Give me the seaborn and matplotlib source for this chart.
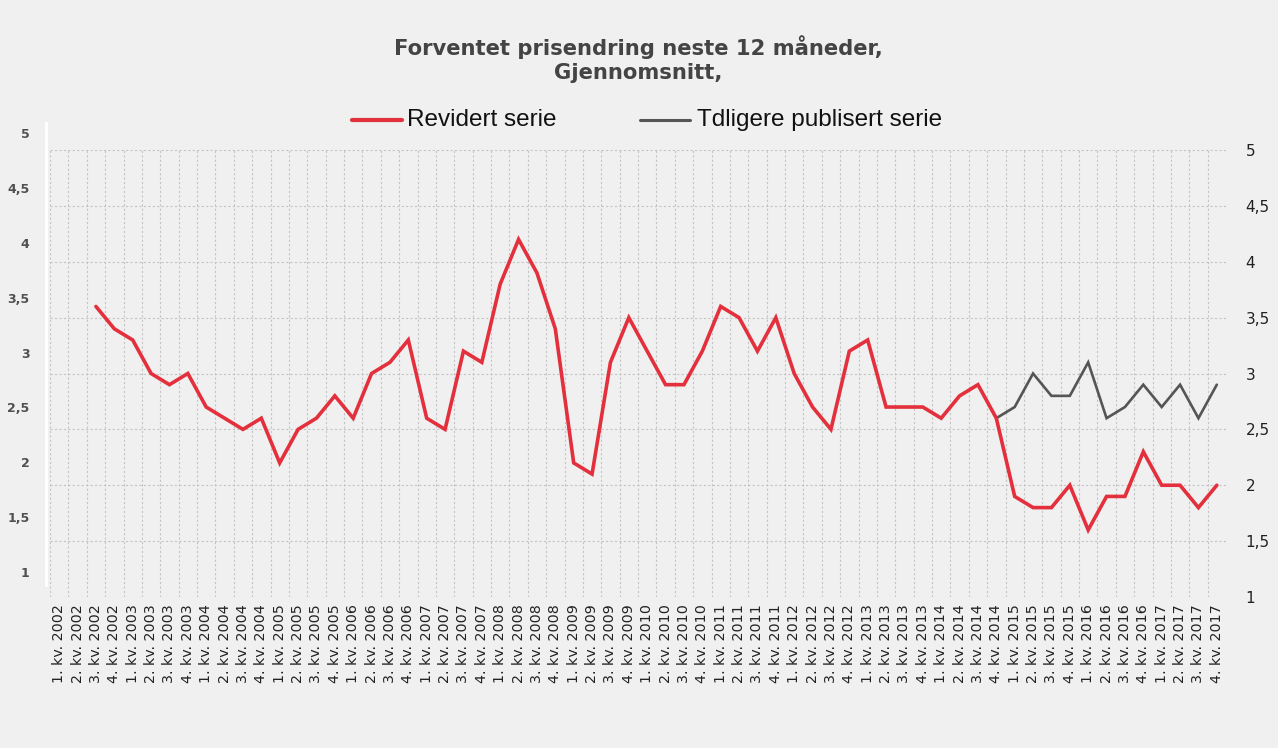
import numpy as np
import pandas as pd
import matplotlib
matplotlib.use("Agg")
import matplotlib.pyplot as plt
import seaborn as sns

# Quarter labels 1. kv. 2002 ... 4. kv. 2017
years = list(range(2002, 2018))
quarters = [f"{q}. kv. {y}" for y in years for q in range(1, 5)]

# Revised series (first two quarters without data)
revidert = [
    np.nan, np.nan, 3.6, 3.4,
    3.3, 3.0, 2.9, 3.0,
    2.7, 2.6, 2.5, 2.6,
    2.2, 2.5, 2.6, 2.8,
    2.6, 3.0, 3.1, 3.3,
    2.6, 2.5, 3.2, 3.1,
    3.8, 4.2, 3.9, 3.4,
    2.2, 2.1, 3.1, 3.5,
    3.2, 2.9, 2.9, 3.2,
    3.6, 3.5, 3.2, 3.5,
    3.0, 2.7, 2.5, 3.2,
    3.3, 2.7, 2.7, 2.7,
    2.6, 2.8, 2.9, 2.6,
    1.9, 1.8, 1.8, 2.0,
    1.6, 1.9, 1.9, 2.3,
    2.0, 2.0, 1.8, 2.0,
]

# Previously published series, 4. kv. 2014 - 4. kv. 2017
tidligere_start = "4. kv. 2014"
tidligere = [2.6, 2.7, 3.0, 2.8, 2.8, 3.1, 2.6, 2.7, 2.9, 2.7, 2.9, 2.6, 2.9]

y_ticks = [1, 1.5, 2, 2.5, 3, 3.5, 4, 4.5, 5]
y_labels = ["1", "1,5", "2", "2,5", "3", "3,5", "4", "4,5", "5"]

title = "Forventet prisendring neste 12 måneder,\nGjennomsnitt,"
name_rev = "Revidert serie"
name_tid = "Tdligere publisert serie"

RED = "#e3303c"
GREY = "#555555"
BG = "#f0f0f0"

sns.set_theme(style="white")
plt.rcParams["font.family"] = ["DejaVu Sans"]

fig = plt.figure(figsize=(12.78, 7.48), dpi=100, facecolor=BG)
W, H = 1278, 748

def box(x0, y0, x1, y1):
    return [x0 / W, 1 - y1 / H, (x1 - x0) / W, (y1 - y0) / H]

ax = fig.add_axes(box(50, 150, 1226, 597))
ax.set_facecolor(BG)

n = len(quarters)
pos = np.arange(n)
df_rev = pd.DataFrame({"pos": pos, "value": revidert}).dropna()
start = quarters.index(tidligere_start)
df_tid = pd.DataFrame({"pos": pos[start:start + len(tidligere)], "value": tidligere})

sns.lineplot(data=df_tid, x="pos", y="value", ax=ax, color=GREY, linewidth=1.9,
             solid_joinstyle="miter", zorder=3)
sns.lineplot(data=df_rev, x="pos", y="value", ax=ax, color=RED, linewidth=2.6,
             solid_joinstyle="miter", zorder=4)

ax.set_xlim(-0.5, n - 0.5)
ax.set_ylim(1, 5)
ax.set_xlabel("")
ax.set_ylabel("")

# Category grid on quarter boundaries
ax.set_xticks(pos)
ax.set_xticklabels(quarters, rotation=90, fontsize=10.3, color="#222222")
ax.set_xticks(np.arange(-0.5, n, 1.0), minor=True)
ax.tick_params(axis="x", which="both", length=0, pad=5)
ax.grid(True, axis="x", which="minor", color="#c4c4c4", linestyle=(0, (2, 2)), linewidth=0.8)
ax.grid(False, axis="x", which="major")

ax.set_yticks(y_ticks)
ax.set_yticklabels(y_labels)
ax.grid(True, axis="y", which="major", color="#c4c4c4", linestyle=(0, (2, 2)), linewidth=0.8)
ax.yaxis.tick_right()
ax.tick_params(axis="y", length=0, pad=14, labelsize=11, labelcolor="#222222")
for s in ax.spines.values():
    s.set_visible(False)

# Left value axis
axl = fig.add_axes(box(46, 123, 47, 585))
axl.set_facecolor(BG)
span = (572 - 133) / 4.0
axl.set_ylim(1 - (585 - 572) / span, 5 + (133 - 123) / span)
axl.set_xticks([])
axl.set_yticks(y_ticks)
axl.set_yticklabels(y_labels, fontsize=9, fontweight="bold", color="#505050")
axl.tick_params(axis="y", length=0, pad=12)
for k, s in axl.spines.items():
    s.set_visible(k == "left")
axl.spines["left"].set_color("white")
axl.spines["left"].set_linewidth(2)

fig.text(638 / W, 1 - 59 / H, title, ha="center", va="center", fontsize=15.2,
         fontweight="bold", color="#444444", linespacing=1.2)

# Legend row
legend_y = 1 - 120 / H
for x0, x1, tx, label, col, lw in [
    (352, 402, 407, name_rev, RED, 3.0),
    (640, 690, 697, name_tid, GREY, 2.2),
]:
    fig.add_artist(plt.Line2D([x0 / W, x1 / W], [legend_y, legend_y], color=col,
                              linewidth=lw, solid_capstyle="round"))
    fig.text(tx / W, legend_y, label, ha="left", va="center", fontsize=17.5,
             family=["Liberation Sans", "DejaVu Sans"], color="#111111")

fig.savefig("out.png", dpi=100, facecolor=BG)
